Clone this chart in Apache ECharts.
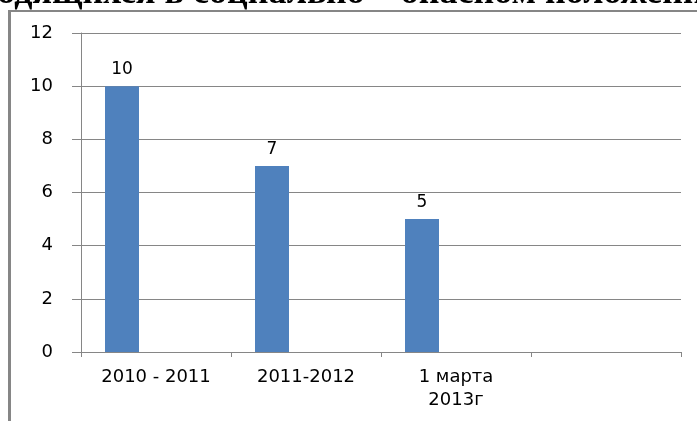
<!DOCTYPE html>
<html>
<head>
<meta charset="utf-8">
<script src="https://cdn.jsdelivr.net/npm/echarts@6/dist/echarts.min.js"></script>
<style>
    html, body { margin: 0; padding: 0; background: #fff; }
    #chart { width: 697px; height: 421px; }
</style>
</head>
<body>
<div id="chart"></div>
<script>
const categories = ['2010 - 2011', '2011-2012', '1 марта\n2013г', '']
const values = [10, 7, 5, '-']
const emptyValues = ['-', '-', '-', '-']
const titleText = 'находящихся в социально – опасном положении'
const barColor = '#4F81BD'
const lineColor = '#868686'

const myChart = echarts.init(document.getElementById('chart'))

const makeBar = (data, withLabel) => ({
    type: 'bar',
    data: data,
    barWidth: 34,
    barGap: '0%',
    itemStyle: { color: barColor },
    label: {
        show: withLabel,
        position: 'top',
        distance: 8,
        color: '#000',
        fontFamily: 'DejaVu Sans',
        fontSize: 17
    }
})

myChart.setOption({
    animation: false,
    grid: { left: 81, right: 16, top: 33, bottom: 69 },
    xAxis: {
        type: 'category',
        data: categories,
        axisLine: { lineStyle: { color: lineColor, width: 1 } },
        axisTick: { show: true, length: 5, lineStyle: { color: lineColor } },
        axisLabel: {
            color: '#000',
            fontFamily: 'DejaVu Sans',
            fontSize: 18,
            margin: 14,
            lineHeight: 23
        }
    },
    yAxis: {
        type: 'value',
        min: 0,
        max: 12,
        interval: 2,
        axisLine: { show: true, lineStyle: { color: lineColor, width: 1 } },
        axisTick: { show: true, length: 9, lineStyle: { color: lineColor } },
        axisLabel: {
            color: '#000',
            fontFamily: 'DejaVu Sans',
            fontSize: 18,
            margin: 28
        },
        splitLine: { lineStyle: { color: lineColor, width: 1 } }
    },
    series: [
        makeBar(values, true),
        makeBar(emptyValues, false),
        makeBar(emptyValues, false)
    ],
    graphic: [
        {
            type: 'text',
            left: -58,
            top: -24,
            style: {
                text: titleText,
                fill: '#000',
                font: 'bold 36px "Liberation Serif"'
            }
        },
        {
            type: 'line',
            shape: { x1: 9.5, y1: 10, x2: 9.5, y2: 421 },
            style: { stroke: lineColor, lineWidth: 3 }
        },
        {
            type: 'line',
            shape: { x1: 8, y1: 11, x2: 697, y2: 11 },
            style: { stroke: lineColor, lineWidth: 2 }
        }
    ]
})
</script>
</body>
</html>
